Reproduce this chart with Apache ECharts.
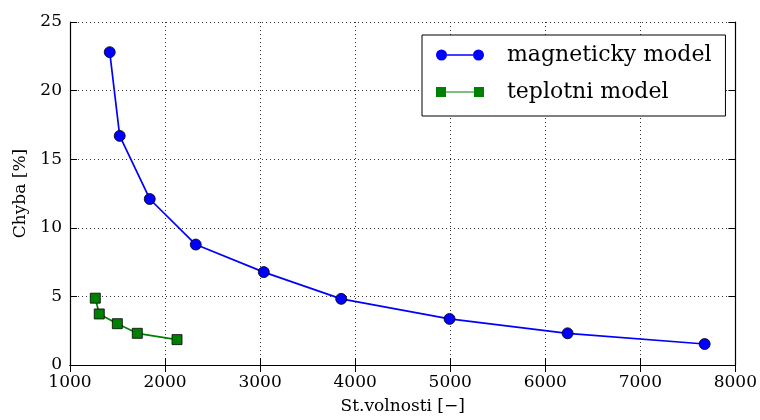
<!DOCTYPE html>
<html>
<head>
<meta charset="utf-8">
<script src="https://cdn.jsdelivr.net/npm/echarts@6/dist/echarts.min.js"></script>
<style>
  html, body { margin: 0; padding: 0; background: #fff; }
  #chart { width: 760px; height: 420px; }
</style>
</head>
<body>
<div id="chart"></div>
<script>
// Degrees of freedom vs. error for the two models
const magX = [1418, 1523, 1839, 2323, 3039, 3853, 4993, 6235, 7677];
const magY = [22.8, 16.7, 12.1, 8.78, 6.77, 4.82, 3.36, 2.31, 1.53];
const tepX = [1266, 1308, 1498, 1708, 2126];
const tepY = [4.87, 3.72, 3.01, 2.31, 1.85];
const xTicks = [1000, 8000, 1000]; // min, max, step
const yTicks = [0, 25, 5];
const seriesNames = ['magneticky model', 'teplotni model'];
const xTitle = 'St.volnosti [\u2212]';
const yTitle = 'Chyba [%]';

const FONT = 'DejaVu Serif';
const pairs = (xs, ys) => xs.map((x, i) => [x, ys[i]]);

const chart = echarts.init(document.getElementById('chart'), null, { renderer: 'canvas' });

const tickStyle = { show: true, inside: true, length: 7, lineStyle: { color: '#000', width: 1 } };
const lineStyleAxis = { show: true, lineStyle: { color: '#000', width: 1.2 } };
const gridLine = { show: true, lineStyle: { color: '#333', width: 1, type: [1, 3] } };

chart.setOption({
  animation: false,
  backgroundColor: '#fff',
  grid: { left: 70, right: 24, top: 22, bottom: 55, containLabel: false },
  legend: {
    left: 422,
    top: 35,
    orient: 'vertical',
    selectedMode: false,
    backgroundColor: '#fff',
    borderColor: '#000',
    borderWidth: 1,
    padding: [9, 14, 13, 14],
    itemGap: 15,
    itemWidth: 48,
    itemHeight: 11,
    textStyle: { fontFamily: FONT, fontSize: 22, color: '#000', padding: [0, 0, 0, 18] },
    data: [
      {
        name: seriesNames[0],
        icon: 'path://M0,5.5 A5.5,5.5 0 1 1 11,5.5 A5.5,5.5 0 1 1 0,5.5 Z M11,4.8 L37,4.8 L37,6.2 L11,6.2 Z M37,5.5 A5.5,5.5 0 1 1 48,5.5 A5.5,5.5 0 1 1 37,5.5 Z',
        itemStyle: { color: '#0000ff', borderWidth: 0 }
      },
      {
        name: seriesNames[1],
        icon: 'path://M0,0.5 L10,0.5 L10,10.5 L0,10.5 Z M10,4.9 L38,4.9 L38,6.1 L10,6.1 Z M38,0.5 L48,0.5 L48,10.5 L38,10.5 Z',
        itemStyle: { color: '#008000', borderWidth: 0 }
      }
    ]
  },
  xAxis: [
    {
      type: 'value', position: 'bottom',
      min: xTicks[0], max: xTicks[1], interval: xTicks[2],
      axisLine: lineStyleAxis, axisTick: tickStyle, splitLine: gridLine,
      axisLabel: { fontFamily: FONT, fontSize: 17, color: '#000', margin: 9, formatter: v => String(v) },
      name: xTitle, nameLocation: 'middle', nameGap: 33,
      nameTextStyle: { fontFamily: FONT, fontSize: 17, color: '#000' }
    },
    {
      type: 'value', position: 'top',
      min: xTicks[0], max: xTicks[1], interval: xTicks[2],
      axisLine: lineStyleAxis, axisTick: tickStyle, splitLine: { show: false },
      axisLabel: { show: false }
    }
  ],
  yAxis: [
    {
      type: 'value', position: 'left',
      min: yTicks[0], max: yTicks[1], interval: yTicks[2],
      axisLine: lineStyleAxis, axisTick: tickStyle, splitLine: gridLine,
      axisLabel: { fontFamily: FONT, fontSize: 17, color: '#000', margin: 8, formatter: v => String(v) },
      name: yTitle, nameLocation: 'middle', nameGap: 40,
      nameTextStyle: { fontFamily: FONT, fontSize: 17, color: '#000' }
    },
    {
      type: 'value', position: 'right',
      min: yTicks[0], max: yTicks[1], interval: yTicks[2],
      axisLine: lineStyleAxis, axisTick: tickStyle, splitLine: { show: false },
      axisLabel: { show: false }
    }
  ],
  series: [
    {
      name: seriesNames[0], type: 'line', xAxisIndex: 0, yAxisIndex: 0,
      data: pairs(magX, magY),
      symbol: 'circle', symbolSize: 11,
      lineStyle: { color: '#0000ff', width: 1.7 },
      itemStyle: { color: '#0000ff', borderColor: '#000', borderWidth: 0.8 }
    },
    {
      name: seriesNames[1], type: 'line', xAxisIndex: 0, yAxisIndex: 0,
      data: pairs(tepX, tepY),
      symbol: 'rect', symbolSize: 10,
      lineStyle: { color: '#008000', width: 1.7 },
      itemStyle: { color: '#008000', borderColor: '#000', borderWidth: 0.8 }
    }
  ]
});
</script>
</body>
</html>
